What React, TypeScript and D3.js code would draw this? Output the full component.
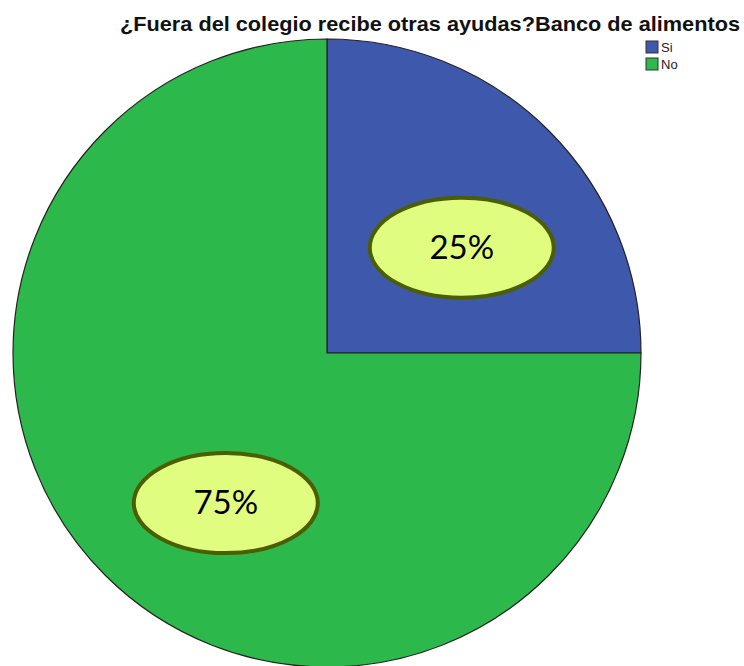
import React from 'react'
import * as d3 from 'd3'

const categories = ['Si', 'No']
const percents = [25, 75]
const colors = ['#3e58ab', '#2db84b']
// where the callout ellipses sit: angle (deg, clockwise from top) and distance from centre
const labelAngles = [52, 214]
const labelRadii = [171, 181]

const W = 744
const H = 666

export default function App() {
  const cx = 327, cy = 353, r = 314

  const pie = d3.pie<number>().sort(null).value(d => d)
  const arcs = pie(percents)
  const arc = d3.arc<d3.PieArcDatum<number>>().innerRadius(0).outerRadius(r)

  return (
    <svg width={W} height={H} style={{ position: 'absolute', left: 0, top: 0, background: '#fff' }}>
      <g transform={`translate(${cx},${cy})`}>
        {arcs.map((a, i) => (
          <path key={categories[i]} d={arc(a) || ''} fill={colors[i]} stroke="#222" strokeWidth={1.2} />
        ))}
        {arcs.map((a, i) => {
          const [x, y] = d3.pointRadial((labelAngles[i] * Math.PI) / 180, labelRadii[i])
          return (
            <g key={'lbl' + i} transform={`translate(${x},${y})`}>
              <ellipse rx={92} ry={50} fill="#e1fd80" stroke="#4b5e00" strokeWidth={4} />
              <text y={11} textAnchor="middle" fontFamily="Lato, 'Open Sans', sans-serif" fontSize={33} fill="#000">
                {percents[i]}%
              </text>
            </g>
          )
        })}
      </g>
      <text x={430} y={31} textAnchor="middle" fontFamily="'Liberation Sans', Arial, sans-serif" fontWeight="bold"
        fontSize={21} textLength={620} lengthAdjust="spacingAndGlyphs" fill="#111">
        ¿Fuera del colegio recibe otras ayudas?Banco de alimentos
      </text>
      {categories.map((c, i) => (
        <g key={c} transform={`translate(646,${41 + i * 17})`}>
          <rect width={12} height={12} fill={colors[i]} stroke="#333" strokeWidth={1} />
          <text x={15} y={11} fontFamily="'Liberation Sans Narrow', 'Liberation Sans', Arial, sans-serif" fontSize={13} fill="#222">
            {c}
          </text>
        </g>
      ))}
    </svg>
  )
}
